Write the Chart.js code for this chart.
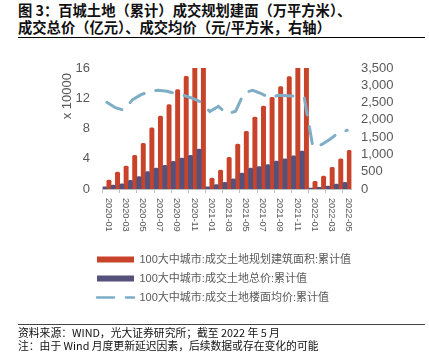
<!DOCTYPE html>
<html><head><meta charset="utf-8">
<script src="https://cdn.jsdelivr.net/npm/chart.js@4.4.1/dist/chart.umd.min.js"></script>
<style>
html,body{margin:0;padding:0;background:#fff;}
body{width:429px;height:359px;position:relative;overflow:hidden;}
#c{position:absolute;left:0;top:0;}
#title{position:absolute;left:18px;top:1px;width:407px;font:bold 14.3px/17.2px "Noto Sans CJK SC",sans-serif;color:#111;border-bottom:1px solid #000;padding-bottom:1.6px;white-space:nowrap;}
#foot{position:absolute;left:18px;top:323.5px;width:407px;border-top:1px solid #444;font:10.8px/13px "Noto Sans CJK SC",sans-serif;color:#111;padding-top:1.1px;white-space:nowrap;}
</style></head><body>
<div id="title">图 3：百城土地（累计）成交规划建面（万平方米）、<br>成交总价（亿元）、成交均价（元/平方米，右轴）</div>
<canvas id="c" width="429" height="359"></canvas>
<div id="foot">资料来源：WIND，光大证券研究所；截至 2022 年 5 月<br>注：由于 Wind 月度更新延迟因素，后续数据或存在变化的可能</div>
<script>
// ---- data ----
const months = ['2020-01','2020-02','2020-03','2020-04','2020-05','2020-06','2020-07','2020-08','2020-09','2020-10','2020-11','2020-12',
                '2021-01','2021-02','2021-03','2021-04','2021-05','2021-06','2021-07','2021-08','2021-09','2021-10','2021-11','2021-12',
                '2022-01','2022-02','2022-03','2022-04','2022-05'];
// 成交土地规划建筑面积:累计值 (万平方米)
const areaWan = [11900, 22500, 30400, 44500, 60400, 81000, 96500, 111500, 131300, 149000, 168000, 208000,
                 14500, 25100, 41900, 59500, 76300, 95200, 109800, 121300, 135300, 148500, 163000, 190000,
                 10200, 17200, 28700, 40000, 51200];
// 成交土地总价:累计值 (亿元)
const priceYi = [3000, 5100, 6800, 11500, 16300, 22900, 27800, 31300, 36600, 41000, 44500, 52900,
                 3000, 5900, 8800, 13600, 21200, 27800, 29500, 32200, 37000, 40000, 43700, 50300,
                 1300, 2200, 4000, 6600, 8800];
// 成交土地楼面均价:累计值 (元/平方米)
const avgPrice = [2510, 2352, 2277, 2584, 2728, 2826, 2855, 2826, 2762, 2705, 2620, 2510,
                  2240, 2393, 2170, 2250, 2785, 2855, 2757, 2641, 2711, 2700, 2680, 2641,
                  1215, 1282, 1438, 1629, 1698];
const seriesNames = ['100大中城市:成交土地规划建筑面积:累计值', '100大中城市:成交土地总价:累计值', '100大中城市:成交土地楼面均价:累计值'];
const leftTicks = [0, 40000, 80000, 120000, 160000];
const rightTicks = [0, 500, 1000, 1500, 2000, 2500, 3000, 3500];
const leftAxisTitle = 'x 10000';
const xLabelStep = 2;

// ---- style ----
const RED = '#C9432A', PURPLE = '#56517A', BLUE = '#7EADC6', TXT = '#595959';
const FONT = "'Liberation Sans Narrow','Arial Narrow','Liberation Sans',Arial,'Noto Sans CJK SC',sans-serif";

const decor = {
  id: 'decor',
  afterLayout(chart) {
    chart.legend.left = 89;
    chart.legend.top = 246;
  },
  afterDraw(chart) {
    const ctx = chart.ctx, xs = chart.scales.x;
    ctx.save();
    ctx.fillStyle = TXT;
    ctx.font = '9.2px ' + FONT;
    ctx.textAlign = 'left';
    ctx.textBaseline = 'middle';
    months.forEach((m, i) => {
      if (i % xLabelStep) return;
      const x = xs.getPixelForValue(i) + 1.5;
      ctx.save();
      ctx.translate(x, chart.chartArea.bottom + 9);
      ctx.rotate(Math.PI / 2);
      ctx.fillText(m, 0, 0);
      ctx.restore();
    });
    ctx.font = '13px ' + FONT;
    ctx.textAlign = 'right';
    ctx.translate(67.5, 73);
    ctx.rotate(-Math.PI / 2);
    ctx.fillText(leftAxisTitle, 0, 0);
    ctx.restore();
  }
};

new Chart(document.getElementById('c'), {
  type: 'bar',
  data: {
    labels: months,
    datasets: [
      { type: 'bar', label: seriesNames[0], data: areaWan, backgroundColor: RED, yAxisID: 'y', order: 2,
        barPercentage: 1, categoryPercentage: 1, borderRadius: {topLeft: 1.5, topRight: 1.5}, borderSkipped: 'bottom' },
      { type: 'bar', label: seriesNames[1], data: priceYi, backgroundColor: PURPLE, yAxisID: 'y', order: 1,
        barPercentage: 1, categoryPercentage: 1, borderRadius: {topLeft: 1.5, topRight: 1.5}, borderSkipped: 'bottom' },
      { type: 'line', label: seriesNames[2], data: avgPrice, borderColor: BLUE, backgroundColor: BLUE, borderWidth: 3,
        borderDash: [17, 12], borderCapStyle: 'round', pointRadius: 0, tension: 0, yAxisID: 'y1', order: 0 }
    ]
  },
  options: {
    responsive: false,
    devicePixelRatio: 1,
    animation: false,
    events: [],
    layout: { padding: { top: 68, left: 0, right: 0, bottom: 46 } },
    scales: {
      x: {
        type: 'category', offset: true,
        grid: { display: true, drawOnChartArea: false, drawTicks: true, tickLength: 4,
                color: c => (c.index % xLabelStep === 0 ? '#BFBFBF' : 'rgba(0,0,0,0)') },
        border: { display: true, color: '#BFBFBF', width: 1 },
        ticks: { display: false, autoSkip: false },
        afterFit(s) { s.height = 57; }
      },
      y: {
        position: 'left', min: 0, max: 160000,
        afterBuildTicks(s) { s.ticks = leftTicks.map(v => ({ value: v })); },
        ticks: { autoSkip: false, callback: v => String(v / 10000), color: TXT, font: { size: 13, family: FONT }, padding: 12.5 },
        grid: { display: false, drawTicks: false },
        border: { display: false },
        afterFit(s) { s.width = 102.5; }
      },
      y1: {
        position: 'right', min: 0, max: 3500,
        afterBuildTicks(s) { s.ticks = rightTicks.map(v => ({ value: v })); },
        ticks: { autoSkip: false, callback: v => v.toLocaleString('en-US'), color: TXT, font: { size: 13, family: FONT }, padding: 9.5 },
        grid: { display: false, drawTicks: false },
        border: { display: false },
        afterFit(s) { s.width = 77.5; }
      }
    },
    plugins: {
      tooltip: { enabled: false },
      legend: {
        position: 'bottom', align: 'start',
        labels: {
          usePointStyle: true, pointStyleWidth: 37, boxHeight: 6, padding: 8,
          color: TXT, font: { size: 11, family: FONT },
          sort: (a, b) => a.datasetIndex - b.datasetIndex,
          generateLabels(chart) {
            const items = Chart.defaults.plugins.legend.labels.generateLabels(chart);
            items.forEach(it => {
              const ds = chart.data.datasets[it.datasetIndex];
              if (ds.type === 'line') { it.pointStyle = 'line'; it.lineWidth = 2.5; it.strokeStyle = ds.borderColor; it.lineDash = ds.borderDash; it.lineCap = 'round'; }
              else { it.pointStyle = 'rect'; it.lineWidth = 0; it.fillStyle = ds.backgroundColor; }
            });
            return items;
          }
        }
      }
    }
  },
  plugins: [decor]
});
</script>
</body></html>
